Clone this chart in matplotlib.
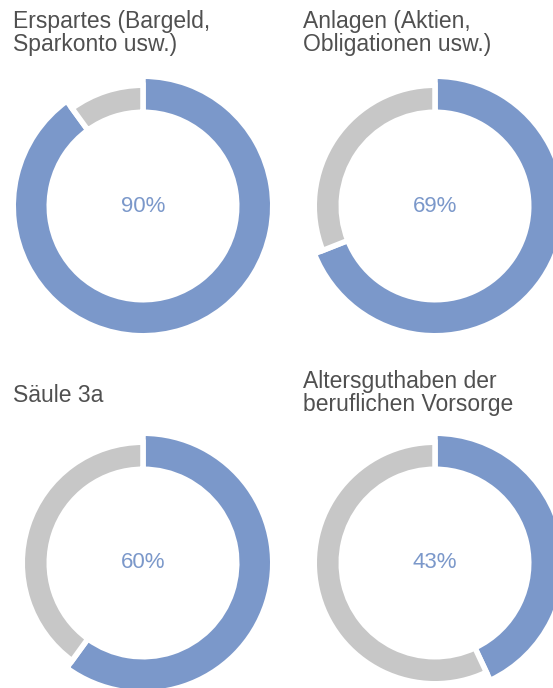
import matplotlib
matplotlib.use("Agg")
import matplotlib.pyplot as plt

# data
titles = ["Erspartes (Bargeld,\nSparkonto usw.)",
          "Anlagen (Aktien,\nObligationen usw.)",
          "Säule 3a",
          "Altersguthaben der\nberuflichen Vorsorge"]
shares = [90, 69, 60, 43]

# layout in pixels (figure is 553 x 688)
W, H = 553, 688
centers = [(143, 206), (435, 206), (143, 563), (435, 563)]
title_pos = [(13, 10, "top"), (303, 10, "top"), (13, 402, "baseline"), (303, 370, "top")]

BLUE = "#7b98ca"
GREY = "#c7c7c7"
TXT = "#505050"

r_in = 96.5
r_blue = 127
r_grey = 118
lw_px = 5.5
h = lw_px / 2

plt.rcParams["font.family"] = ["Liberation Sans", "DejaVu Sans"]

fig = plt.figure(figsize=(W / 100, H / 100), dpi=100)

half = 150
for (cx, cy), val in zip(centers, shares):
    ax = fig.add_axes([(cx - half) / W, 1 - (cy + half) / H, 2 * half / W, 2 * half / H])
    wedges, _ = ax.pie([val, 100 - val], colors=[BLUE, GREY], startangle=90,
                       counterclock=False, radius=r_blue + h,
                       wedgeprops=dict(width=r_blue - r_in + 2 * h,
                                       edgecolor="white", linewidth=lw_px * 72 / 100))
    wedges[1].set_radius(r_grey + h)
    wedges[1].set_width(r_grey - r_in + 2 * h)
    for w in wedges:
        w.set_clip_on(False)
    ax.text(0, 0, f"{val}%", ha="center", va="center", fontsize=16, color=BLUE)
    ax.set_xlim(-half, half)
    ax.set_ylim(-half, half)
    ax.set_aspect("equal")
    ax.axis("off")

for (x, y, va), t in zip(title_pos, titles):
    fig.text(x / W, 1 - y / H, t, ha="left", va=va, fontsize=16.5, color=TXT,
             linespacing=1.0)

fig.savefig("out.png", dpi=100)
